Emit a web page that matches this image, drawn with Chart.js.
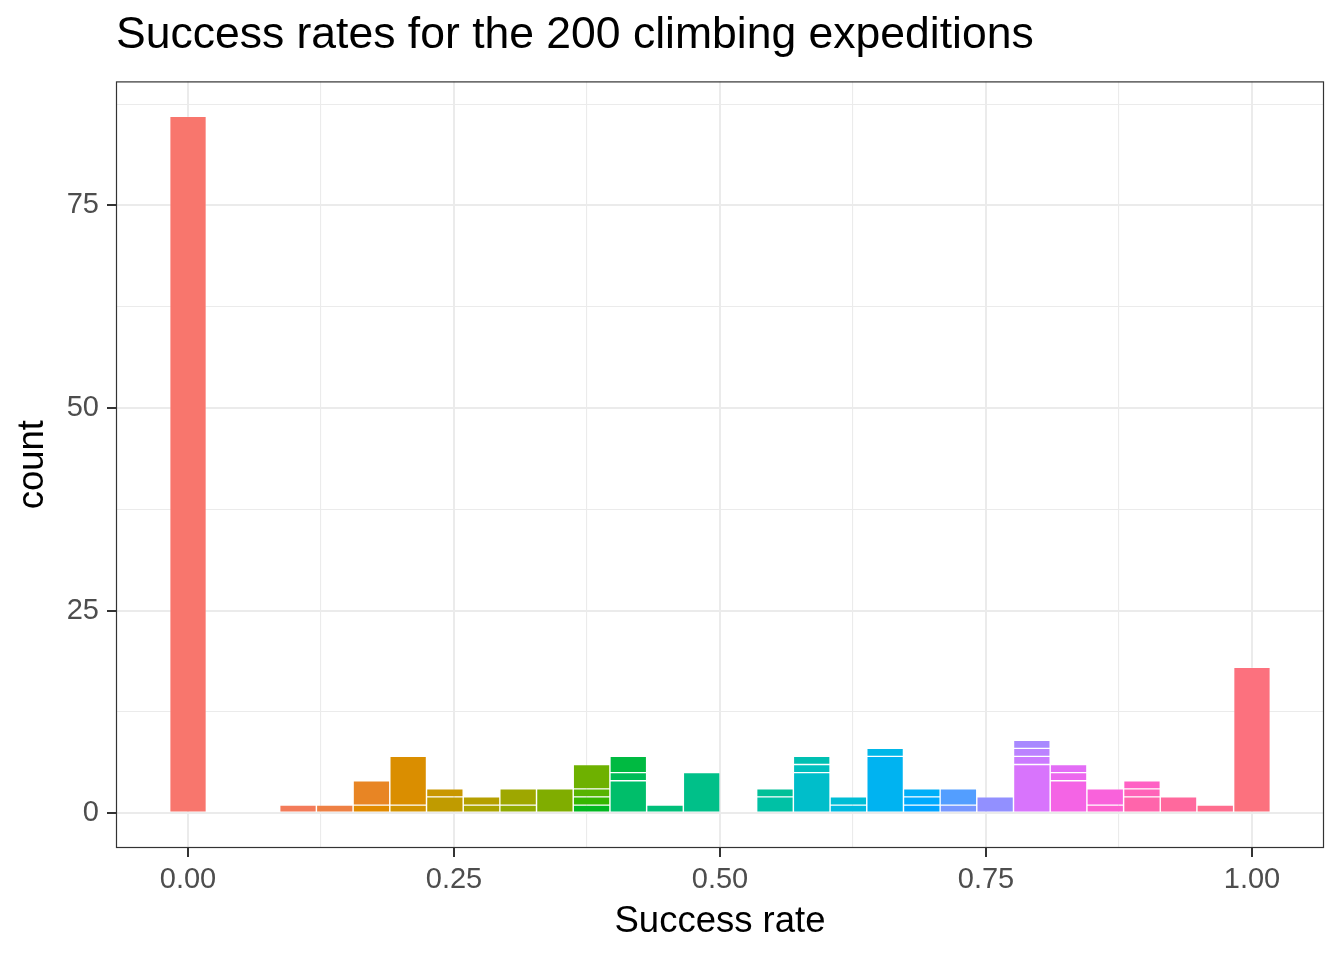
<!DOCTYPE html>
<html>
<head>
<meta charset="utf-8">
<script src="https://cdn.jsdelivr.net/npm/chart.js@4"></script>
<style>
  html, body { margin: 0; padding: 0; background: #fff; }
</style>
</head>
<body>
<canvas id="histChart" width="1344" height="960"></canvas>
<script>
// bin centres of the 30-bin histogram (binwidth 1/29)
const binCenters = [0, 0.0345, 0.0690, 0.1034, 0.1379, 0.1724, 0.2069, 0.2414, 0.2759, 0.3103,
    0.3448, 0.3793, 0.4138, 0.4483, 0.4828, 0.5172, 0.5517, 0.5862, 0.6207, 0.6552,
    0.6897, 0.7241, 0.7586, 0.7931, 0.8276, 0.8621, 0.8966, 0.9310, 0.9655, 1];

// stacked counts per bin, bottom layer first (each layer = one distinct success rate)
const layer1 = [86, 0, 0, 1, 1, 1, 1, 2, 1, 1, 3, 1, 4, 1, 5, 0, 2, 5, 1, 7, 1, 1, 2, 6, 4, 1, 2, 2, 1, 18];
const layer2 = [0, 0, 0, 0, 0, 3, 6, 1, 1, 2, 0, 1, 1, 0, 0, 0, 1, 1, 1, 1, 1, 2, 0, 1, 1, 2, 1, 0, 0, 0];
const layer3 = [0, 0, 0, 0, 0, 0, 0, 0, 0, 0, 0, 1, 2, 0, 0, 0, 0, 1, 0, 0, 1, 0, 0, 1, 1, 0, 1, 0, 0, 0];
const layer4 = [0, 0, 0, 0, 0, 0, 0, 0, 0, 0, 0, 3, 0, 0, 0, 0, 0, 0, 0, 0, 0, 0, 0, 1, 0, 0, 0, 0, 0, 0];

const xTicks = [0, 0.125, 0.25, 0.375, 0.5, 0.625, 0.75, 0.875, 1];
const yTicks = [0, 12.5, 25, 37.5, 50, 62.5, 75, 87.5];

const layers = [layer1, layer2, layer3, layer4];

// ggplot-like hue palette (hcl, l = 65, c = 100)
function hclColor(h) {
    const L = 65, C = 100;
    const hr = h * Math.PI / 180;
    const U = C * Math.cos(hr), V = C * Math.sin(hr);
    const Xn = 95.047, Yn = 100, Zn = 108.883;
    const Y = Yn * Math.pow((L + 16) / 116, 3);
    const den = Xn + 15 * Yn + 3 * Zn;
    const un = 4 * Xn / den, vn = 9 * Yn / den;
    const u = U / (13 * L) + un, v = V / (13 * L) + vn;
    const X = 9 * Y * u / (4 * v);
    const Z = Y * (12 - 3 * u - 20 * v) / (4 * v);
    const x = X / 100, y = Y / 100, z = Z / 100;
    const lin = [
        3.240479 * x - 1.537150 * y - 0.498535 * z,
        -0.969256 * x + 1.875992 * y + 0.041556 * z,
        0.055648 * x - 0.204043 * y + 1.057311 * z
    ];
    const rgb = lin.map((c) => {
        const g = c <= 0.0031308 ? 12.92 * c : 1.055 * Math.pow(c, 1 / 2.4) - 0.055;
        return Math.round(Math.min(1, Math.max(0, g)) * 255);
    });
    return `rgb(${rgb[0]}, ${rgb[1]}, ${rgb[2]})`;
}

// levels are numbered bin by bin, top segment first (ggplot stacks first level on top)
const segCounts = binCenters.map((_, i) => layers.filter((l) => l[i] > 0).length);
const nLevels = segCounts.reduce((a, b) => a + b, 0);
const layerColors = layers.map(() => []);
let level = 0;
binCenters.forEach((_, i) => {
    for (let li = segCounts[i] - 1; li >= 0; li--) {
        layerColors[li][i] = hclColor(15 + level * 360 / nLevels);
        level++;
    }
});

const datasets = layers.map((layer, li) => ({
    label: 'layer ' + (li + 1),
    data: binCenters.map((x, i) => ({ x: x, y: layer[i] > 0 ? layer[i] : null })),
    backgroundColor: binCenters.map((_, i) => layerColors[li][i] || 'rgba(0,0,0,0)'),
    borderColor: 'rgba(255,255,255,0.2)',
    borderWidth: 1,
    borderSkipped: false,
    barPercentage: 1,
    categoryPercentage: 1
}));

const panelBorder = {
    id: 'panelBorder',
    afterDraw(chart) {
        const { ctx, chartArea: a } = chart;
        ctx.save();
        ctx.strokeStyle = '#333333';
        ctx.lineWidth = 1.2;
        ctx.strokeRect(a.left + 0.5, a.top + 0.5, a.right - a.left - 1, a.bottom - a.top - 1);
        ctx.restore();
    }
};

const FONT = 'Liberation Sans, Arial, Helvetica, sans-serif';
const isMajorX = (v) => Math.abs(v * 4 - Math.round(v * 4)) < 1e-6;
const isMajorY = (v) => v % 25 === 0;
const tickVal = (c) => (c.tick ? c.tick.value : 0);

new Chart(document.getElementById('histChart'), {
    type: 'bar',
    data: { datasets: datasets },
    plugins: [panelBorder],
    options: {
        responsive: false,
        animation: false,
        layout: { padding: { top: 0, right: 20, bottom: 0, left: 0 } },
        plugins: {
            legend: { display: false },
            tooltip: { enabled: false },
            title: {
                display: true,
                text: 'Success rates for the 200 climbing expeditions',
                align: 'start',
                fullSize: false,
                color: '#000000',
                font: { family: FONT, size: 44.5, weight: 'normal' },
                padding: { top: 9, bottom: 19 }
            }
        },
        scales: {
            x: {
                type: 'linear',
                stacked: true,
                offset: false,
                min: -0.0677,
                max: 1.0677,
                afterBuildTicks: (scale) => { scale.ticks = xTicks.map((v) => ({ value: v })); },
                afterFit: (scale) => { scale.height = 112; },
                border: { display: false },
                grid: {
                    offset: false,
                    color: '#EBEBEB',
                    lineWidth: (c) => isMajorX(tickVal(c)) ? 2 : 1.1,
                    tickColor: (c) => isMajorX(tickVal(c)) ? '#333333' : 'rgba(0,0,0,0)',
                    tickWidth: 2,
                    tickLength: 9
                },
                ticks: {
                    color: '#4D4D4D',
                    font: { family: FONT, size: 29 },
                    padding: 6,
                    maxRotation: 0,
                    autoSkip: false,
                    callback: (v) => isMajorX(v) ? Number(v).toFixed(2) : ''
                },
                title: {
                    display: true,
                    text: 'Success rate',
                    color: '#000000',
                    font: { family: FONT, size: 36.5 },
                    padding: { top: 16, bottom: 16 }
                }
            },
            y: {
                stacked: true,
                min: -4.3,
                max: 90.3,
                afterBuildTicks: (scale) => { scale.ticks = yTicks.map((v) => ({ value: v })); },
                afterFit: (scale) => { scale.width = 116; },
                border: { display: false },
                grid: {
                    color: '#EBEBEB',
                    lineWidth: (c) => isMajorY(tickVal(c)) ? 2 : 1.1,
                    tickColor: (c) => isMajorY(tickVal(c)) ? '#333333' : 'rgba(0,0,0,0)',
                    tickWidth: 2,
                    tickLength: 9
                },
                ticks: {
                    color: '#4D4D4D',
                    font: { family: FONT, size: 29 },
                    padding: 8,
                    autoSkip: false,
                    callback: (v) => isMajorY(v) ? String(v) : ''
                },
                title: {
                    display: true,
                    text: 'count',
                    color: '#000000',
                    font: { family: FONT, size: 36.5 },
                    padding: { top: 11, bottom: 11 }
                }
            }
        }
    }
});
</script>
</body>
</html>
